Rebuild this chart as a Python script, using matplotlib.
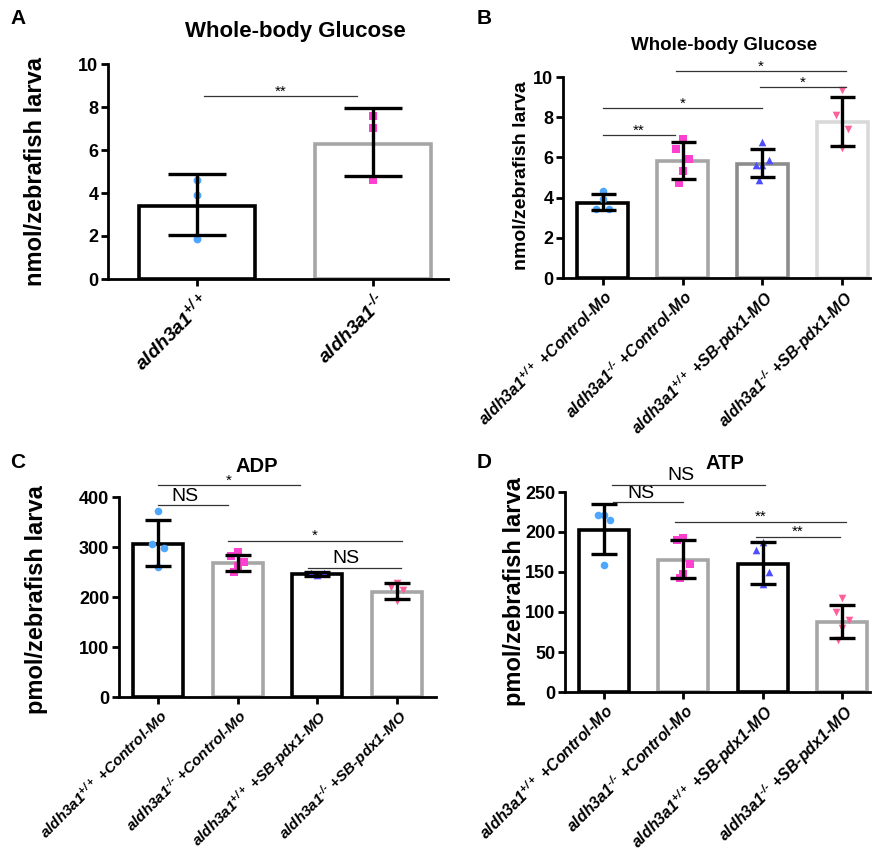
import numpy as np
import matplotlib
matplotlib.use('Agg')
import matplotlib.pyplot as plt

plt.rcParams['font.family'] = ['Liberation Sans', 'DejaVu Sans']
plt.rcParams['mathtext.default'] = 'regular'

# ---- data ----
a_labels = ['aldh3a1$^{+/+}$', 'aldh3a1$^{\u2010/\u2010}$']
a_means = [3.4, 6.3]
a_err_hi = [4.9, 7.95]
a_err_lo = [2.05, 4.8]
a_points = [[4.6, 3.9, 1.85], [7.6, 7.0, 4.6]]

grp_labels = ['aldh3a1$^{+/+}$ +Control-Mo', 'aldh3a1$^{\u2010/\u2010}$ +Control-Mo',
              'aldh3a1$^{+/+}$ +SB-pdx1-MO', 'aldh3a1$^{\u2010/\u2010}$ +SB-pdx1-MO']

b_means = [3.75, 5.8, 5.65, 7.75]
b_err_hi = [4.2, 6.75, 6.4, 9.0]
b_err_lo = [3.4, 4.95, 5.0, 6.55]
b_points = [[4.35, 3.45, 3.45, 3.95], [6.9, 6.4, 5.9, 5.3, 4.75],
            [6.75, 5.6, 5.85, 5.6, 4.9], [9.35, 8.1, 7.4, 6.45]]

c_means = [306, 268, 246, 210]
c_err_hi = [355, 285, 250, 228]
c_err_lo = [262, 253, 243, 197]
c_points = [[373, 307, 299, 260], [290, 283, 270, 262, 250],
            [244, 249, 248, 246], [228, 220, 215, 192]]

d_means = [203, 165, 160, 87]
d_err_hi = [235, 190, 187, 109]
d_err_lo = [173, 143, 135, 67]
d_points = [[221, 221, 215, 159], [193, 190, 160, 147, 142],
            [188, 178, 150, 135], [117, 100, 90, 80, 65]]

# significance brackets: (x1, x2, y, text)
a_sig = [(0.04, 0.91, 8.5, '**')]
b_sig = [(0.0, 0.9, 7.1, '**'), (0.0, 2.0, 8.45, '*'),
         (0.92, 3.05, 10.3, '*'), (1.97, 3.05, 9.5, '*')]
c_sig = [(0.0, 1.78, 424, '*'), (0.0, 0.88, 384, 'NS'),
         (0.88, 3.06, 313, '*'), (1.88, 3.05, 259, 'NS')]
d_sig = [(0.1, 2.03, 259, 'NS'), (0.12, 1.0, 237, 'NS'),
         (0.9, 3.05, 213, '**'), (1.92, 2.97, 194, '**')]

edge_colors_a = ['black', '#a6a6a6']
edge_colors_b = ['black', '#a6a6a6', '#8c8c8c', '#d9d9d9']
edge_colors_cd = ['black', '#a6a6a6', 'black', '#a6a6a6']
pt_colors = ['#4da6ff', '#ff3fcf', '#4d4dff', '#ff5f9a']
pt_markers = ['o', 's', '^', 'v']

W, H = 875, 855


def fx(px):
    return px / W


def fy(py):
    return 1 - py / H


def spread(n, amt):
    return np.array([0.0, -1.0, 1.0, 0.0, -0.6, 0.6, 0.0])[:n] * amt


def draw_bars(ax, means, hi, lo, points, edges, width, capsize, msize, jit):
    x = np.arange(len(means))
    ax.bar(x, means, width=width, facecolor='white', edgecolor=edges,
           linewidth=2.6, zorder=2)
    for i, pts in enumerate(points):
        ax.scatter(x[i] + spread(len(pts), jit), pts, s=msize,
                   color=pt_colors[i], marker=pt_markers[i], zorder=3,
                   linewidths=0)
    means = np.array(means)
    yerr = [means - np.array(lo), np.array(hi) - means]
    ax.errorbar(x, means, yerr=yerr, fmt='none', ecolor='black',
                elinewidth=2.4, capsize=capsize, capthick=2.4, zorder=4)
    return x


def draw_sig(ax, sigs, ymax):
    for x1, x2, y, t in sigs:
        ax.plot([x1, x2], [y, y], color='#333333', lw=0.9, clip_on=False,
                zorder=5)
        if t == 'NS':
            ax.text((x1 + x2) / 2 - 0.1, y + ymax * 0.002, t, ha='center',
                    va='bottom', fontsize=14, clip_on=False)
        else:
            ax.text((x1 + x2) / 2, y - ymax * 0.012, t, ha='center',
                    va='bottom', fontsize=11, clip_on=False)


def style(ax, labels, fs):
    for s in ['top', 'right']:
        ax.spines[s].set_visible(False)
    for s in ['left', 'bottom']:
        ax.spines[s].set_linewidth(2)
    ax.tick_params(width=2, length=5, pad=2)
    for lab in ax.get_yticklabels():
        lab.set_fontweight('bold')
        lab.set_fontsize(13)
    ax.set_xticklabels(labels, rotation=45, ha='right',
                       rotation_mode='anchor', fontsize=fs,
                       fontweight='bold', fontstyle='italic')


fig = plt.figure(figsize=(8.75, 8.55), dpi=100)

# Panel A
axA = fig.add_axes([fx(108), fy(279), fx(340), 215 / H])
x = draw_bars(axA, a_means, a_err_hi, a_err_lo, a_points, edge_colors_a,
              0.66, 21, 32, 0.0)
axA.set_xlim(-0.506, 1.426)
axA.set_ylim(0, 10)
axA.set_yticks([0, 2, 4, 6, 8, 10])
axA.set_xticks(x)
style(axA, a_labels, 14)
draw_sig(axA, a_sig, 10)

# Panel B
axB = fig.add_axes([fx(563), fy(278), fx(307), 201 / H])
x = draw_bars(axB, b_means, b_err_hi, b_err_lo, b_points, edge_colors_b,
              0.64, 9, 30, 0.08)
axB.set_xlim(-0.5, 3.35)
axB.set_ylim(0, 10)
axB.set_yticks([0, 2, 4, 6, 8, 10])
axB.set_xticks(x)
style(axB, grp_labels, 11.5)
draw_sig(axB, b_sig, 10)

# Panel C
axC = fig.add_axes([fx(119), fy(697), fx(317), 200 / H])
x = draw_bars(axC, c_means, c_err_hi, c_err_lo, c_points, edge_colors_cd,
              0.63, 9.5, 30, 0.08)
axC.set_xlim(-0.49, 3.49)
axC.set_ylim(0, 400)
axC.set_yticks([0, 100, 200, 300, 400])
axC.set_xticks(x)
style(axC, grp_labels, 11)
draw_sig(axC, c_sig, 400)

# Panel D
axD = fig.add_axes([fx(565), fy(692), fx(305), 200 / H])
x = draw_bars(axD, d_means, d_err_hi, d_err_lo, d_points, edge_colors_cd,
              0.63, 9.5, 30, 0.08)
axD.set_xlim(-0.49, 3.35)
axD.set_ylim(0, 250)
axD.set_yticks([0, 50, 100, 150, 200, 250])
axD.set_xticks(x)
style(axD, grp_labels, 11.5)
draw_sig(axD, d_sig, 250)

# titles
fig.text(fx(295), fy(31), 'Whole-body Glucose', fontsize=16,
         fontweight='bold', ha='center', va='center')
fig.text(fx(724), fy(45), 'Whole-body Glucose', fontsize=13.5,
         fontweight='bold', ha='center', va='center')
fig.text(fx(257), fy(466), 'ADP', fontsize=14.5, fontweight='bold',
         ha='center', va='center')
fig.text(fx(725), fy(463), 'ATP', fontsize=14.5, fontweight='bold',
         ha='center', va='center')

# y labels
fig.text(fx(36), fy(171), 'nmol/zebrafish larva', fontsize=17,
         fontweight='bold', rotation=90, ha='center', va='center')
fig.text(fx(522), fy(176), 'nmol/zebrafish larva', fontsize=14,
         fontweight='bold', rotation=90, ha='center', va='center')
fig.text(fx(37), fy(600), 'pmol/zebrafish larva', fontsize=17,
         fontweight='bold', rotation=90, ha='center', va='center')
fig.text(fx(514), fy(592), 'pmol/zebrafish larva', fontsize=17,
         fontweight='bold', rotation=90, ha='center', va='center')

for letter, (px, py) in zip('ABCD', [(18, 18), (484, 18),
                                     (18, 462), (484, 462)]):
    fig.text(fx(px), fy(py), letter, fontsize=15, fontweight='bold',
             ha='center', va='center')

fig.savefig('out.png', dpi=100)
